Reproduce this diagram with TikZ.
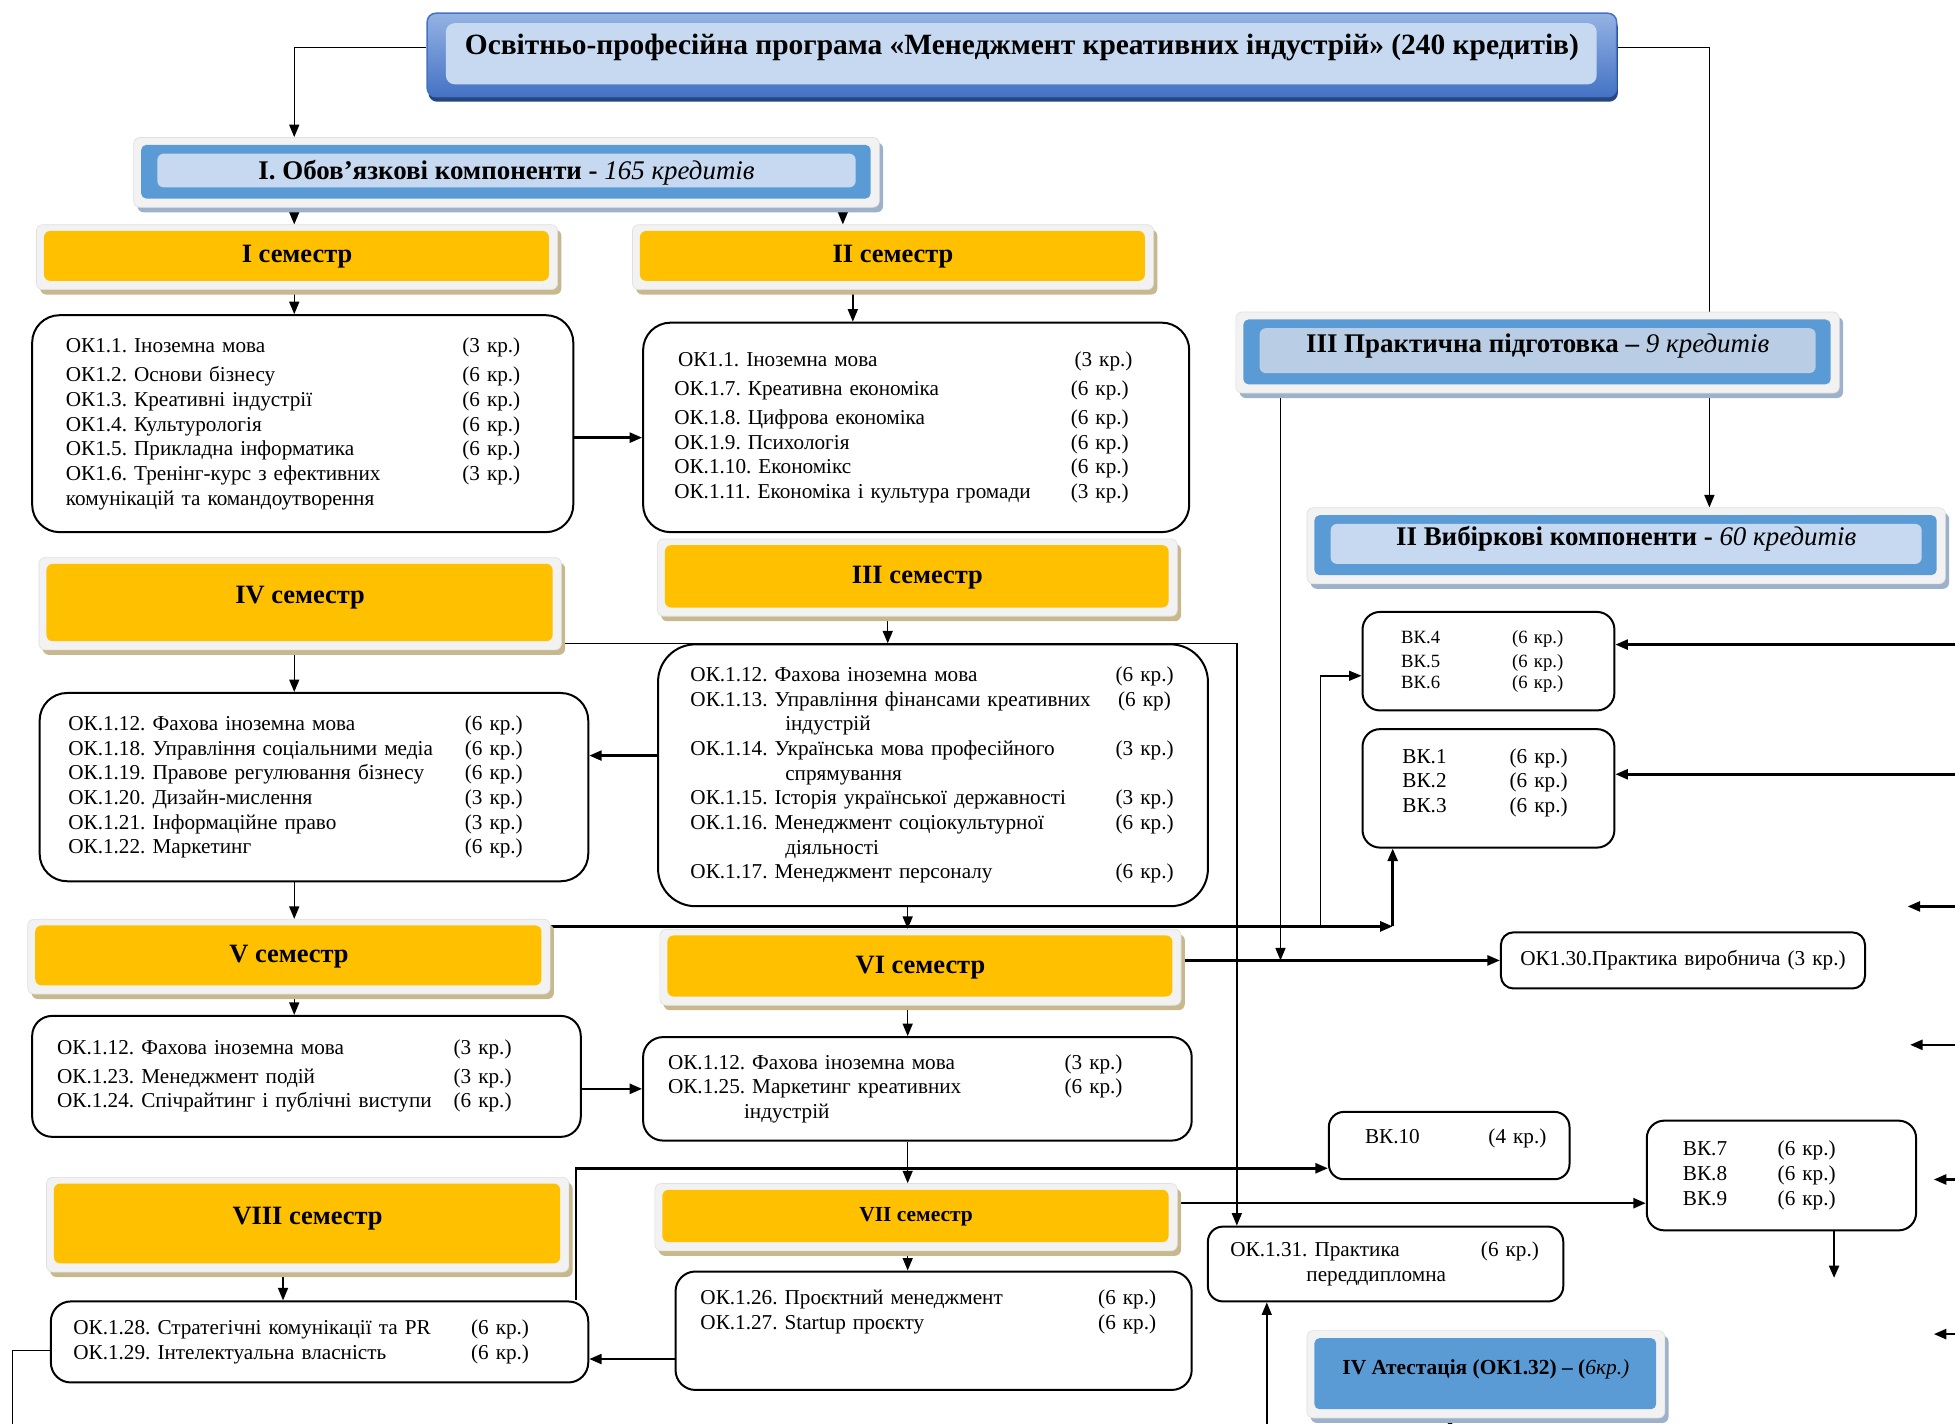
\documentclass[tikz,border=0pt]{standalone}
\usepackage{fontspec}
\setmainfont{Liberation Serif}
\usepackage{array}
\usepackage{tikz}
\usetikzlibrary{arrows.meta,backgrounds,calc,positioning}
\frenchspacing
\definecolor{semyellow}{HTML}{FFC000}
\definecolor{frame}{HTML}{F2F2F2}
\definecolor{frameedge}{HTML}{E0E0E0}
\definecolor{semshade}{HTML}{C8B88E}
\definecolor{headblue}{HTML}{5B9BD5}
\definecolor{headlight}{HTML}{C6D9F1}
\definecolor{praklight}{HTML}{B9CDE5}
\definecolor{headshade}{HTML}{9DB1CA}
\definecolor{opblue}{HTML}{4472C4}
\definecolor{optop}{HTML}{95B3E3}
\definecolor{opdark}{HTML}{27457F}
\tikzset{%
	block/.style    = {draw, fill=white, line width=1.6pt, rounded corners=16pt, anchor=north west, align=left, inner ysep=0pt, font=\fontsize{17}{19.8}\selectfont}, % course list
	sembox/.style   = {rounded corners=5pt, fill=frame, draw=frameedge, line width=0.5pt, anchor=north west, inner sep=0pt,
		preaction={fill=semshade, transform canvas={shift={(3pt,-4pt)}}},
		path picture={\fill[semyellow, rounded corners=5pt] ([shift={(6pt,-5pt)}]path picture bounding box.north west) rectangle ([shift={(-7pt,7pt)}]path picture bounding box.south east);},
		font=\bfseries\fontsize{21.2}{25}\selectfont}, % semester
	headbox/.style  = {rounded corners=5pt, fill=frame, draw=frameedge, line width=0.5pt, anchor=north west, inner sep=0pt,
		preaction={fill=headshade, transform canvas={shift={(3pt,-4pt)}}},
		path picture={\fill[headblue, rounded corners=4pt] ([shift={(6pt,-6pt)}]path picture bounding box.north west) rectangle ([shift={(-7pt,7pt)}]path picture bounding box.south east);
			\fill[#1] ([shift={(19pt,-13pt)}]path picture bounding box.north west) rectangle ([shift={(-19pt,16pt)}]path picture bounding box.south east);},
		font=\fontsize{21.6}{26}\selectfont}, % component
	opbox/.style    = {rounded corners=7pt, draw=opblue, line width=1.2pt, top color=optop, bottom color=opblue, anchor=north west, inner sep=0pt,
		preaction={fill=opdark, transform canvas={shift={(1pt,-4pt)}}},
		path picture={\fill[headlight] ([shift={(15pt,-8pt)}]path picture bounding box.north west) rectangle ([shift={(-16pt,10pt)}]path picture bounding box.south east);},
		font=\bfseries\fontsize{23.6}{28}\selectfont}, % programme
	lift/.style     = {text height=0pt, text depth=0pt},
	wire/.style     = {line width=1.2pt},
	bus/.style      = {line width=2pt},
}

\begin{document}
\begin{tikzpicture}[x=1pt, y=-1pt, >={Triangle[length=10pt,width=8pt]}]
		\useasboundingbox (0,0) rectangle (1568,1142);
		% headers
		\node[opbox, lift, minimum width=954pt, minimum height=67pt] (op) at (342,10) {Освітньо-професійна програма «Менеджмент креативних індустрій» (240 кредитів)};
		\node[headbox=headlight, minimum width=598pt, minimum height=56pt] (ok) at (107,110) {\textbf{I. Обов’язкові компоненти -} \textit{165 кредитів}};
		\node[headbox=praklight, lift, minimum width=484pt, minimum height=65pt] (prak) at (991,250) {\textbf{III Практична підготовка –} \textit{9 кредитів}};
		\node[headbox=headlight, lift, minimum width=512pt, minimum height=61pt] (vk) at (1048,407) {\textbf{II Вибіркові компоненти -} \textit{60 кредитів}};
		\node[headbox=headblue, lift, minimum width=287pt, minimum height=70pt, font=\fontsize{17.2}{20}\selectfont] (att) at (1048,1067) {\textbf{IV Атестація (ОК1.32) – (}\textit{6кр.)}};
		% semesters
		\node[sembox, minimum width=418pt, minimum height=52pt] (sem1) at (29,180) {I семестр};
		\node[sembox, minimum width=418pt, minimum height=52pt] (sem2) at (507,180) {II семестр};
		\node[sembox, minimum width=417pt, minimum height=62pt] (sem3) at (527,432) {III семестр};
		\node[sembox, lift, minimum width=419pt, minimum height=74pt] (sem4) at (31,447) {IV семестр};
		\node[sembox, minimum width=419pt, minimum height=60pt] (sem5) at (22,737) {V семестр};
		\node[sembox, minimum width=418pt, minimum height=61pt] (sem6) at (529,745) {VI семестр};
		\node[sembox, minimum width=419pt, minimum height=54pt, font=\bfseries\fontsize{17.2}{20}\selectfont] (sem7) at (525,949) {VII семестр};
		\node[sembox, lift, minimum width=419pt, minimum height=76pt] (sem8) at (37,944) {VIII семестр};
		% course lists
		\node[block, rounded corners=22pt, text width=380pt, inner xsep=27pt, minimum height=174pt] (c1) at (25,252) {\begin{tabular}{@{}w{l}{318pt}@{}l@{}}
			ОК1.1. Іноземна мова & (3 кр.)\\[4pt]
			ОК1.2. Основи бізнесу & (6 кр.)\\
			ОК1.3. Креативні індустрії & (6 кр.)\\
			ОК1.4. Культурологія & (6 кр.)\\
			ОК1.5. Прикладна інформатика & (6 кр.)\\
			ОК1.6. Тренінг-курс з ефективних & (3 кр.)\\
			комунікацій та командоутворення &
		\end{tabular}};
		\node[block, rounded corners=22pt, text width=388pt, inner xsep=25pt, minimum height=168pt] (c2) at (515,258) {\begin{tabular}{@{}w{l}{318pt}@{}l@{}}
			\hspace*{3pt}ОК1.1. Іноземна мова & \hspace*{3pt}(3 кр.)\\[4pt]
			ОК.1.7. Креативна економіка & (6 кр.)\\[3pt]
			ОК.1.8. Цифрова економіка & (6 кр.)\\
			ОК.1.9. Психологія & (6 кр.)\\
			ОК.1.10. Економікс & (6 кр.)\\
			ОК.1.11. Економіка і культура громади & (3 кр.)
		\end{tabular}};
		\node[block, rounded corners=30pt, text width=389pt, inner xsep=26pt, minimum height=210pt] (c3) at (527,516) {\begin{tabular}{@{}w{l}{341pt}@{}l@{}}
			ОК.1.12. Фахова іноземна мова & (6 кр.)\\
			ОК.1.13. Управління фінансами креативних & \hspace*{2pt}(6 кр)\\
			\hspace*{76pt}індустрій & \\
			ОК.1.14. Українська мова професійного & (3 кр.)\\
			\hspace*{76pt}спрямування & \\
			ОК.1.15. Історія української державності & (3 кр.)\\
			ОК.1.16. Менеджмент соціокультурної & (6 кр.)\\
			\hspace*{76pt}діяльності & \\
			ОК.1.17. Менеджмент персоналу & (6 кр.)
		\end{tabular}};
		\node[block, rounded corners=22pt, text width=394pt, inner xsep=23pt, minimum height=151pt] (c4) at (31,555) {\begin{tabular}{@{}w{l}{318pt}@{}l@{}}
			ОК.1.12. Фахова іноземна мова & (6 кр.)\\
			ОК.1.18. Управління соціальними медіа & (6 кр.)\\
			ОК.1.19. Правове регулювання бізнесу & (6 кр.)\\
			ОК.1.20. Дизайн-мислення & (3 кр.)\\
			ОК.1.21. Інформаційне право & (3 кр.)\\
			ОК.1.22. Маркетинг & (6 кр.)
		\end{tabular}};
		\node[block, text width=400pt, inner xsep=20pt, minimum height=97pt] (c5) at (25,814) {\begin{tabular}{@{}w{l}{318pt}@{}l@{}}
			ОК.1.12. Фахова іноземна мова & (3 кр.)\\[3pt]
			ОК.1.23. Менеджмент подій & (3 кр.)\\
			ОК.1.24. Спічрайтинг і публічні виступи & (6 кр.)
		\end{tabular}};
		\node[block, text width=400pt, inner xsep=20pt, minimum height=83pt] (c6) at (515,831) {\begin{tabular}{@{}w{l}{318pt}@{}l@{}}
			ОК.1.12. Фахова іноземна мова & (3 кр.)\\
			ОК.1.25. Маркетинг креативних & (6 кр.)\\
			\hspace*{61pt}індустрій &
		\end{tabular}};
		\node[block, text width=374pt, inner xsep=20pt, minimum height=95pt] (c7) at (541,1019) {\begin{tabular}{@{}w{l}{319pt}@{}l@{}}
			ОК.1.26. Проєктний менеджмент & (6 кр.)\\
			ОК.1.27. Startup проєкту & (6 кр.)\\[10pt]
			&
		\end{tabular}};
		\node[block, text width=395pt, inner xsep=18pt, minimum height=65pt] (c8) at (40,1043) {\begin{tabular}{@{}w{l}{319pt}@{}l@{}}
			ОК.1.28. Стратегічні комунікації та PR & (6 кр.)\\
			ОК.1.29. Інтелектуальна власність & (6 кр.)
		\end{tabular}};
		% electives and practice
		\node[block, rounded corners=14pt, text width=140pt, inner xsep=31pt, minimum height=79pt, font=\fontsize{15}{18.5}\selectfont] (vk46) at (1092,490) {\begin{tabular}{@{}w{l}{89pt}@{}l@{}}
			ВК.4 & (6 кр.)\\[1pt]
			ВК.5 & (6 кр.)\\[-2pt]
			ВК.6 & (6 кр.)
		\end{tabular}};
		\node[block, rounded corners=14pt, text width=138pt, inner xsep=32pt, minimum height=95pt] (vk13) at (1092,584) {\begin{tabular}{@{}w{l}{86pt}@{}l@{}}
			ВК.1 & (6 кр.)\\
			ВК.2 & (6 кр.)\\
			ВК.3 & (6 кр.)\\[-11pt]
			&
		\end{tabular}};
		\node[block, rounded corners=10pt, align=center, text width=272pt, inner xsep=10pt, minimum height=45pt] (pr30) at (1203,747) {ОК1.30.Практика виробнича\ (3 кр.)};
		\node[block, rounded corners=12pt, text width=135pt, inner xsep=29pt, minimum height=54pt] (vk10) at (1065,891) {\begin{tabular}{@{}w{l}{99pt}@{}l@{}}
			ВК.10 & (4 кр.)\\[-8pt]
			&
		\end{tabular}};
		\node[block, rounded corners=14pt, text width=158pt, inner xsep=29pt, minimum height=88pt] (vk79) at (1320,898) {\begin{tabular}{@{}w{l}{76pt}@{}l@{}}
			ВК.7 & (6 кр.)\\
			ВК.8 & (6 кр.)\\
			ВК.9 & (6 кр.)
		\end{tabular}};
		\node[block, rounded corners=12pt, text width=249pt, inner xsep=18pt, minimum height=60pt] (pr31) at (968,983) {\begin{tabular}{@{}w{l}{201pt}@{}l@{}}
			ОК.1.31. Практика & (6 кр.)\\
			\hspace*{61pt}переддипломна &
		\end{tabular}};
		% guides
		\coordinate (colL) at (236,0);
		\coordinate (colM) at (728,0);
		\coordinate (xS2) at (676,0);
		\coordinate (xC2) at (684,0);
		\coordinate (xC3) at (712,0);
		\coordinate (xC8) at (227,0);
		\coordinate (xTop) at (1371,0);
		\coordinate (xP31) at (992,0);
		\coordinate (xPrak) at (1027,0);
		\coordinate (xVK46) at (1059,0);
		\coordinate (xVK13) at (1117,0);
		\coordinate (xVIII) at (462,0);
		\coordinate (xVK79) at (1471,0);
		\coordinate (hTop) at (0,38);
		\coordinate (h12) at (0,351);
		\coordinate (h34) at (0,606);
		\coordinate (hIV) at (0,516);
		\coordinate (hVK46) at (0,542);
		\coordinate (hV) at (0,743);
		\coordinate (hVK10) at (0,937);
		\coordinate (hVII) at (0,965);
		\coordinate (h78) at (0,1090);
		\coordinate (hVIII) at (0,1083);
		\coordinate (outL) at (10,1142);
		\coordinate (outVK79) at (1471,1025);
		\coordinate (inP31) at (1016,1142);
		\coordinate (inAtt) at (1163,1142);
		\coordinate (edgeVK46) at (1568,517);
		\coordinate (edgeVK13) at (1568,621);
		\begin{scope}[on background layer]
		\fill[white] (0,0) rectangle (1568,1142);
		\draw[->, wire] (op.west |- hTop) -| (colL |- ok.north);
		\draw[->, wire] (op.east |- hTop) -| (xTop |- vk.north);
		\draw[->, wire] (colL |- ok.south) -- (colL |- sem1.north);
		\draw[->, wire] (xS2 |- ok.south) -- (xS2 |- sem2.north);
		\draw[->, wire] (colL |- sem1.south) -- (colL |- c1.north);
		\draw[->, wire] (xC2 |- sem2.south) -- (xC2 |- c2.north);
		\draw[->, bus] (c1.east |- h12) -- (c2.west |- h12);
		\draw[->, wire] (xC3 |- sem3.south) -- (xC3 |- c3.north);
		\draw[->, bus] (c3.west |- h34) -- (c4.east |- h34);
		\draw[->, wire] (colL |- sem4.south) -- (colL |- c4.north);
		\draw[->, wire] (colL |- c4.south) -- (colL |- sem5.north);
		\draw[->, wire] (colL |- sem5.south) -- (colL |- c5.north);
		\draw[->, wire] (colM |- c3.south) -- (colM |- sem6.north);
		\draw[->, wire] (colM |- sem6.south) -- (colM |- c6.north);
		\draw[->, bus] (c5.east |- c6.west) -- (c6.west);
		\draw[->, wire] (colM |- c6.south) -- (colM |- sem7.north);
		\draw[->, wire] (colM |- sem7.south) -- (colM |- c7.north);
		\draw[->, bus] (c7.west |- h78) -- (c8.east |- h78);
		\draw[->, wire] (xC8 |- sem8.south) -- (xC8 |- c8.north);
		\draw[->, wire] (sem4.east |- hIV) -| (xP31 |- pr31.north);
		\draw[->, bus] (sem5.east |- hV) -- (xVK13 |- hV);
		\draw[->, bus] (xVK13 |- hV) -- (xVK13 |- vk13.south);
		\draw[->, wire] (xVK46 |- hV) |- (vk46.west |- hVK46);
		\draw[->, wire] (xPrak |- prak.south) -- (xPrak |- pr30.west);
		\draw[->, bus] (sem6.east |- pr30.west) -- (pr30.west);
		\draw[->, bus] (xVIII |- c8.north) |- (vk10.west |- hVK10);
		\draw[->, bus] (sem7.east |- hVII) -- (vk79.west |- hVII);
		\draw[wire] (c8.west |- hVIII) -| (outL);
		\draw[->, bus] (xVK79 |- vk79.south) -- (outVK79);
		\draw[->, wire] (inP31) -- (inP31 |- pr31.south);
		\draw[->, bus] (inAtt) -- (inAtt |- att.south);
		\draw[->, bus] (edgeVK46) -- (vk46.east |- edgeVK46);
		\draw[->, bus] (edgeVK13) -- (vk13.east |- edgeVK13);
		\foreach \r/\p/\q in {a/727/1530, b/838/1532, c/946/1551, d/1070/1551} {
			\coordinate (edge\r) at (1568,\p);
			\coordinate (tip\r) at (\q,\p);
			\draw[->, bus] (edge\r) -- (tip\r);
		}
		\end{scope}
		\end{tikzpicture}
\end{document}
